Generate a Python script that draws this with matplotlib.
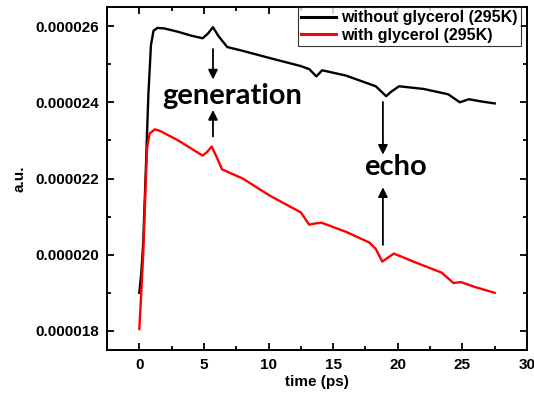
import numpy as np
import matplotlib.pyplot as plt
from matplotlib.ticker import FormatStrFormatter, MultipleLocator

# traces (time in ps, signal in a.u.)
t_black = [0.0, 0.15, 0.3, 0.5, 0.7, 0.9, 1.1, 1.4, 1.9, 3.0, 4.0, 4.9, 5.3, 5.7, 6.1, 6.8, 8.0, 10.1,
           12.5, 13.15, 13.7, 14.15, 16.0, 18.3, 19.1, 19.5, 20.1, 22.0, 23.9, 24.8, 25.5, 26.5, 27.5]
y_black = [1.90e-5, 1.95e-5, 2.03e-5, 2.22e-5, 2.42e-5, 2.55e-5, 2.588e-5, 2.595e-5, 2.594e-5, 2.585e-5,
           2.575e-5, 2.568e-5, 2.58e-5, 2.597e-5, 2.575e-5, 2.545e-5, 2.535e-5, 2.516e-5,
           2.495e-5, 2.487e-5, 2.468e-5, 2.484e-5, 2.47e-5, 2.442e-5, 2.416e-5, 2.428e-5, 2.442e-5,
           2.435e-5, 2.421e-5, 2.40e-5, 2.408e-5, 2.402e-5, 2.397e-5]

t_red = [0.0, 0.15, 0.3, 0.45, 0.6, 0.8, 1.2, 1.6, 3.0, 4.9, 5.25, 5.6, 6.0, 6.4, 8.0, 10.1, 12.5,
         13.15, 13.6, 14.1, 16.0, 17.8, 18.3, 18.8, 19.7, 21.5, 23.4, 24.3, 24.9, 26.0, 27.5]
y_red = [1.805e-5, 1.90e-5, 2.0e-5, 2.145e-5, 2.28e-5, 2.318e-5, 2.329e-5, 2.325e-5, 2.30e-5, 2.26e-5,
         2.27e-5, 2.284e-5, 2.255e-5, 2.224e-5, 2.20e-5, 2.155e-5, 2.111e-5,
         2.079e-5, 2.082e-5, 2.084e-5, 2.06e-5, 2.032e-5, 2.015e-5, 1.982e-5, 2.003e-5, 1.978e-5,
         1.953e-5, 1.926e-5, 1.928e-5, 1.915e-5, 1.90e-5]

labels = ['without glycerol (295K)', 'with glycerol (295K)']

plt.rcParams['font.family'] = ['Liberation Sans', 'DejaVu Sans']
plt.rcParams['font.weight'] = 'bold'

fig = plt.figure(figsize=(5.34, 3.94), dpi=100)
ax = fig.add_axes([0.2004, 0.1117, 0.7865, 0.8705])

ax.plot(t_black, y_black, color='black', lw=1.7, label=labels[0])
ax.plot(t_red, y_red, color='red', lw=1.7, label=labels[1])

ax.set_xlim(-2.5, 30)
ax.set_ylim(1.75e-5, 2.65e-5)
ax.xaxis.set_major_locator(MultipleLocator(5))
ax.xaxis.set_minor_locator(MultipleLocator(2.5))
ax.yaxis.set_major_locator(MultipleLocator(2e-6))
ax.yaxis.set_minor_locator(MultipleLocator(1e-6))
ax.yaxis.set_major_formatter(FormatStrFormatter('%.6f'))
ax.tick_params(which='both', direction='in', top=True, right=True, width=1.3)
ax.tick_params(which='major', length=5, labelsize=11, pad=6)
ax.tick_params(which='minor', length=3)
for s in ax.spines.values():
    s.set_linewidth(1.4)

ax.set_xlabel('time (ps)', fontsize=11, fontweight='bold', labelpad=2)
ax.set_ylabel('a.u.', fontsize=11, fontweight='bold', labelpad=6)

# arrows
arw = dict(arrowstyle='-|>', color='black', lw=1.3, mutation_scale=14)
ax.annotate('', xy=(5.7, 2.4526e-5), xytext=(5.7, 2.547e-5), arrowprops=arw)
ax.annotate('', xy=(5.7, 2.387e-5), xytext=(5.7, 2.303e-5), arrowprops=arw)
ax.annotate('', xy=(18.85, 2.2553e-5), xytext=(18.85, 2.408e-5), arrowprops=arw)
ax.annotate('', xy=(18.85, 2.1842e-5), xytext=(18.85, 2.0184e-5), arrowprops=arw)

ax.text(7.15, 2.416e-5, 'generation', family=['Lato', 'DejaVu Sans'], fontsize=21,
        fontweight='bold', ha='center', va='center')
ax.text(19.85, 2.229e-5, 'echo', family=['Lato', 'DejaVu Sans'], fontsize=21,
        fontweight='bold', ha='center', va='center')

leg = ax.legend(loc='upper right', fontsize=11.5, frameon=True, fancybox=False,
                edgecolor='black', borderaxespad=0.0, bbox_to_anchor=(0.985, 1.0),
                handlelength=2.2, borderpad=0.2, labelspacing=0.15, handletextpad=0.3)
leg.get_frame().set_linewidth(0.8)
for ln in leg.get_lines():
    ln.set_linewidth(2.2)

fig.savefig('out.png', dpi=100)
